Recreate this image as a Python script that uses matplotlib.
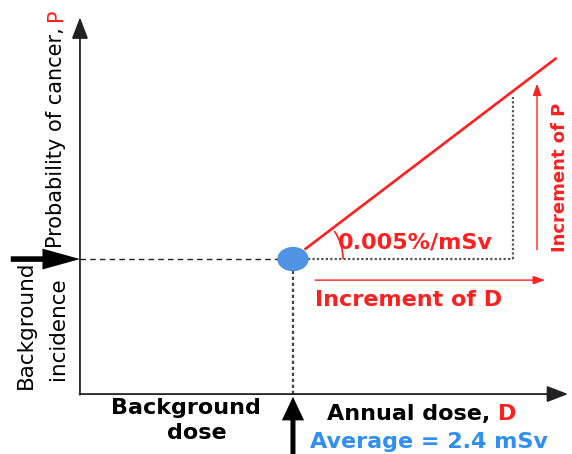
import numpy as np
import matplotlib
matplotlib.use('Agg')
import matplotlib.pyplot as plt
from matplotlib.patches import Ellipse, Arc

# schematic values: dose in mSv, probability in units of the background incidence
bg_dose = 2.4
bg_incidence = 1.0
risk_dose = [2.53, 5.37]
risk_prob = [1.07, 2.49]
step_dose = [2.57, 4.88]
step_prob = [1.0, 2.2]
inc_d = [2.65, 5.24]
inc_p = [1.07, 2.30]
axis_dose_max = 5.5
axis_prob_max = 2.79

RED = '#ff1f1f'
BLUE = '#2f8ff2'
DARK = '#222222'

fig = plt.figure(figsize=(5.72, 4.54), dpi=100)
ax = fig.add_axes([0, 0, 1, 1])
ax.set_xlim(-0.901, 5.544)
ax.set_ylim(-0.444, 2.919)
ax.axis('off')


def arrow(xy, xytext, style, color, lw=0, **kw):
    ax.annotate('', xy=xy, xytext=xytext,
                arrowprops=dict(arrowstyle=style, color=color, lw=lw,
                                shrinkA=0, shrinkB=0, mutation_scale=1, **kw))


# axes with arrow heads
arrow((0, axis_prob_max), (0, -0.005), '-|>,head_length=13,head_width=5', DARK, lw=1.3)
arrow((axis_dose_max, 0), (-0.005, 0), '-|>,head_length=13,head_width=5', DARK, lw=1.3)

# background level lines
ax.plot([0, bg_dose], [bg_incidence, bg_incidence], color=DARK, lw=1.0, ls=(0, (4, 3)))
ax.plot([step_dose[0], step_dose[1]], [bg_incidence, bg_incidence], color='#555555', lw=1.6, ls=(0, (1, 1)))
ax.plot([step_dose[1], step_dose[1]], step_prob, color='#555555', lw=1.6, ls=(0, (1, 1)))
ax.plot([bg_dose, bg_dose], [0, bg_incidence], color='#444444', lw=1.6, ls=(0, (1.5, 1.2)))

# linear risk line, angle marker measured in data space
ax.plot(risk_dose, risk_prob, color=RED, lw=1.9, solid_capstyle='butt')
ax.add_patch(Arc((bg_dose, bg_incidence), 1.127, 0.741, theta1=0, theta2=24,
                 color=RED, lw=1.2))

ax.add_patch(Ellipse((bg_dose, bg_incidence), 0.338, 0.17, color='#4f93e3', zorder=5))

# increment arrows
arrow((inc_d[1], 0.844), (inc_d[0], 0.844), '-|>,head_length=7,head_width=2.5', RED, lw=1.0)
arrow((5.15, inc_p[1]), (5.15, inc_p[0]), '-|>,head_length=7,head_width=2.5', RED, lw=1.0)

# black pointer arrows
arrow((0, bg_incidence), (-0.78, bg_incidence),
      'simple,head_length=27,head_width=15,tail_width=4', 'black')
arrow((bg_dose, -0.02), (bg_dose, -0.5),
      'simple,head_length=17,head_width=16,tail_width=3.6', 'black')

# texts
ax.text(2.907, 1.126, '0.005%/mSv', color=RED, fontsize=16, fontweight='bold',
        ha='left', va='center')
ax.text(2.65, 0.696, 'Increment of D', color=RED, fontsize=16, fontweight='bold',
        ha='left', va='center')
ax.text(5.41, 1.607, 'Increment of P', color=RED, fontsize=13, fontweight='bold',
        rotation=90, ha='center', va='center')

t = ax.text(-0.203, 1.081, 'Probability of cancer, ', fontsize=15, rotation=90,
            rotation_mode='anchor', ha='left', va='baseline')
ax.annotate('P', xy=(-0.203, 1), xycoords=('data', t), color=RED, fontsize=15,
            rotation=90, rotation_mode='anchor', ha='left', va='baseline')

ax.text(-0.615, 0.511, 'Background', fontsize=15.5, rotation=90, ha='center', va='center')
ax.text(-0.248, 0.481, 'incidence', fontsize=15.5, rotation=90, ha='center', va='center')

ax.text(1.19, -0.104, 'Background', fontsize=16, fontweight='bold', ha='center', va='center')
ax.text(1.318, -0.289, 'dose', fontsize=16, fontweight='bold', ha='center', va='center')

t2 = ax.text(2.78, -0.193, 'Annual dose, ', fontsize=16, fontweight='bold',
             ha='left', va='baseline')
ax.annotate('D', xy=(1, -0.193), xycoords=(t2, 'data'), color=RED, fontsize=16,
            fontweight='bold', ha='left', va='baseline')
ax.text(3.93, -0.356, 'Average = 2.4 mSv', color=BLUE, fontsize=16, fontweight='bold',
        ha='center', va='center')

fig.savefig('out.png', dpi=100)
